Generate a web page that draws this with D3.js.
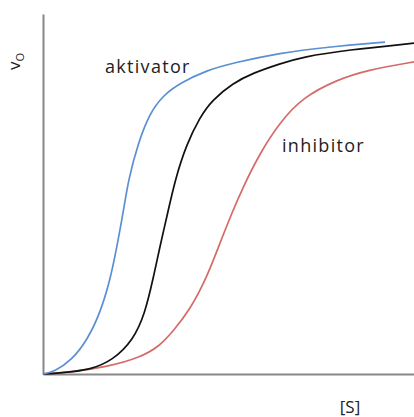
<!DOCTYPE html>
<html>
<head>
<meta charset="utf-8">
<script src="https://cdn.jsdelivr.net/npm/d3@7"></script>
<style>
  body { margin: 0; background: #fff; }
  svg { display: block; }
  text { font-family: "Open Sans", "Noto Sans", sans-serif; fill: #222; }
</style>
</head>
<body>
<div id="chart"></div>
<script>
// substrate concentration [S] vs. rate v0 (0-100 units)
const aktivatorS = [0, 3.0, 7.8, 11.9, 15.4, 18.1, 19.9, 21.6, 23.0, 25.6, 28.8, 32.3, 36.9, 44.2, 51.2, 63.9, 76.5, 92.2];
const aktivatorV = [0, 0.6, 3.9, 9.4, 16.9, 26.1, 35.3, 44.7, 53.9, 64.0, 72.5, 77.3, 80.8, 84.4, 86.4, 89.2, 90.8, 92.2];

const kontrolS = [0, 4.6, 12.7, 18.9, 24.3, 27.5, 29.6, 31.5, 33.6, 35.6, 38.6, 42.3, 45.6, 51.2, 56.6, 63.9, 70.1, 81.9, 100];
const kontrolV = [0, 0.3, 1.1, 3.9, 9.4, 16.9, 26.1, 35.3, 44.7, 53.9, 63.6, 71.4, 76.1, 80.8, 83.6, 86.2, 88.1, 90.0, 91.9];

const inhibitorS = [0, 8.1, 17.3, 26.1, 31.5, 35.0, 39.6, 44.2, 47.7, 50.9, 53.9, 58.5, 63.9, 70.1, 79.2, 87.3, 100];
const inhibitorV = [0, 0.6, 2.0, 4.5, 7.8, 11.8, 17.8, 26.9, 36.4, 44.7, 51.9, 61.4, 70.0, 76.9, 81.7, 84.4, 86.7];

const seriesNames = ["aktivator", "kontrol", "inhibitor"];
const axisLabels = { x: "[S]", y: "v", ySub: "O" };

const width = 414, height = 417;
const svg = d3.select("#chart").append("svg").attr("width", width).attr("height", height);

//Scales
const x = d3.scaleLinear().domain([0, 100]).range([43, 414]);
const y = d3.scaleLinear().domain([0, 100]).range([374, 14]);
const color = d3.scaleOrdinal().domain(seriesNames).range(["#5b8fd4", "#111111", "#d56b69"]);

//Axes, no ticks, just the lines
const axisColor = "#888888";
svg.append("g").attr("transform", `translate(0,${y(0)})`)
  .call(d3.axisBottom(x).tickValues([]).tickSizeOuter(0))
  .select(".domain").attr("stroke", axisColor).attr("stroke-width", 2);
svg.append("g").attr("transform", `translate(${x(0)},0)`)
  .call(d3.axisLeft(y).tickValues([]).tickSizeOuter(0))
  .select(".domain").attr("stroke", axisColor).attr("stroke-width", 2);

//Curves
const series = [
  { name: "inhibitor", s: inhibitorS, v: inhibitorV },
  { name: "kontrol", s: kontrolS, v: kontrolV },
  { name: "aktivator", s: aktivatorS, v: aktivatorV }
];
const line = d3.line()
  .x(d => x(d[0]))
  .y(d => y(d[1]))
  .curve(d3.curveBasis);

svg.selectAll("path.curve").data(series).enter().append("path")
  .attr("class", "curve")
  .attr("fill", "none")
  .attr("stroke", d => color(d.name))
  .attr("stroke-width", 1.7)
  .attr("d", d => line(d.s.map((s, i) => [s, d.v[i]])));

//Labels
svg.append("text").attr("x", 105).attr("y", 73)
  .style("font-size", "18px").style("letter-spacing", "1.3px").text(seriesNames[0]);
svg.append("text").attr("x", 282).attr("y", 152)
  .style("font-size", "18px").style("letter-spacing", "1.3px").text(seriesNames[2]);

svg.append("text").attr("x", 350).attr("y", 413).attr("text-anchor", "middle")
  .style("font-size", "17px").text(axisLabels.x);

const yl = svg.append("text").attr("transform", "translate(20,70) rotate(-90)")
  .style("font-size", "17px");
yl.append("tspan").text(axisLabels.y);
yl.append("tspan").attr("dy", 4).style("font-size", "11px").text(axisLabels.ySub);
</script>
</body>
</html>
